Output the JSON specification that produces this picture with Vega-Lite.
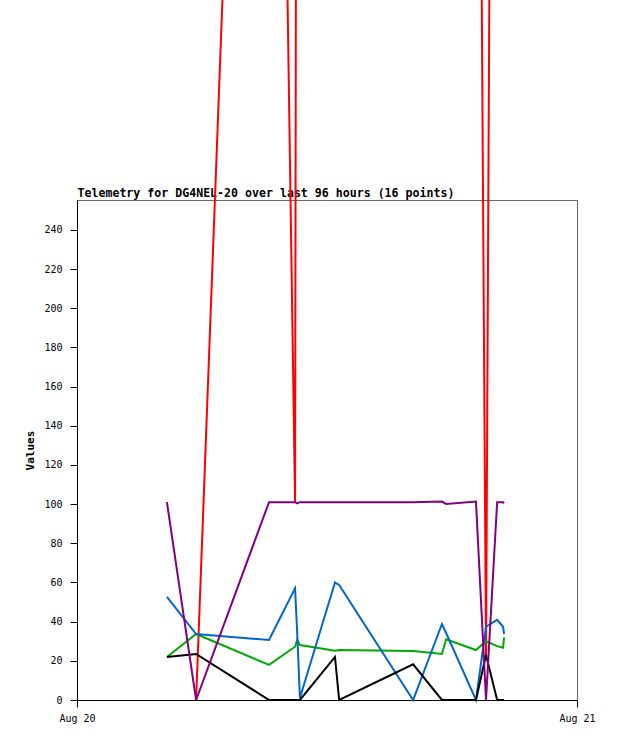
{
  "$schema": "https://vega.github.io/schema/vega-lite/v6.json",
  "description": "Telemetry line chart",
  "width": 500,
  "height": 500,
  "autosize": {"type": "none"},
  "padding": {"left": 77, "top": 200, "right": 41, "bottom": 41},
  "background": "white",
  "config": {
    "view": {"stroke": "#666666", "strokeWidth": 1},
    "axis": {
      "domainColor": "black",
      "tickColor": "black",
      "tickSize": 7,
      "grid": false,
      "labelFont": "DejaVu Sans Mono",
      "labelFontSize": 10,
      "labelColor": "black",
      "titleFont": "DejaVu Sans Mono",
      "titleFontSize": 11,
      "titleFontWeight": "bold",
      "titleColor": "black"
    }
  },
  "data": {
    "values": [
      {"time": "2024-08-20T04:19:00", "black": 22, "blue": 52.7, "green": 22, "purple": 101, "red": null},
      {"time": "2024-08-20T05:43:00", "black": 23.5, "blue": 33.7, "green": 33.7, "purple": 0, "red": 0},
      {"time": "2024-08-20T09:13:00", "black": 0, "blue": 30.6, "green": 17.9, "purple": 101, "red": 990},
      {"time": "2024-08-20T10:28:00", "black": 0, "blue": 57, "green": 27.2, "purple": 101, "red": 101},
      {"time": "2024-08-20T10:34:00", "black": 0, "blue": 35, "green": 30.6, "purple": 100.4, "red": 770},
      {"time": "2024-08-20T10:42:00", "black": 0, "blue": 1, "green": 28.1, "purple": 101, "red": 1000},
      {"time": "2024-08-20T12:23:00", "black": 22, "blue": 60, "green": 25.2, "purple": 101, "red": 1050},
      {"time": "2024-08-20T12:35:00", "black": 0, "blue": 58.7, "green": 25.5, "purple": 101, "red": 1050},
      {"time": "2024-08-20T16:08:00", "black": 18.2, "blue": 0, "green": 25, "purple": 101, "red": 1000},
      {"time": "2024-08-20T17:31:00", "black": 0, "blue": 38.8, "green": 23.5, "purple": 101.3, "red": 1000},
      {"time": "2024-08-20T17:43:00", "black": 0, "blue": 34.2, "green": 31, "purple": 100.1, "red": 950},
      {"time": "2024-08-20T19:09:00", "black": 0, "blue": 0, "green": 25.5, "purple": 101.3, "red": 812},
      {"time": "2024-08-20T19:38:00", "black": 23, "blue": 37.4, "green": 30, "purple": 0, "red": 22},
      {"time": "2024-08-20T20:10:00", "black": 0, "blue": 40.9, "green": 27.5, "purple": 101, "red": 1156},
      {"time": "2024-08-20T20:27:00", "black": 0, "blue": 37.4, "green": 26.7, "purple": 101, "red": 1100},
      {"time": "2024-08-20T20:30:00", "black": 0, "blue": 33.7, "green": 32, "purple": 100.5, "red": 1100}
    ]
  },
  "resolve": {"axis": {"x": "independent"}},
  "layer": [
    {
      "mark": {"type": "line", "color": "#ff0000", "strokeWidth": 2, "clip": false},
      "encoding": {
        "x": {
          "field": "time", "type": "temporal", "title": null,
          "scale": {"domain": [{"year": 2024, "month": 8, "date": 20}, {"year": 2024, "month": 8, "date": 21}]},
          "axis": {
            "orient": "bottom",
            "values": [{"year": 2024, "month": 8, "date": 20}, {"year": 2024, "month": 8, "date": 21}],
            "format": "%b %d",
            "labelAlign": "center",
            "labelPadding": 6
          }
        },
        "y": {"field": "red", "type": "quantitative", "title": "Values",
          "scale": {"domain": [0, 255.3], "nice": false},
          "axis": {"values": [0, 20, 40, 60, 80, 100, 120, 140, 160, 180, 200, 220, 240], "labelPadding": 8, "titlePadding": 8}}
      }
    },
    {
      "mark": {"type": "line", "color": "#00aa00", "strokeWidth": 2, "clip": false},
      "encoding": {
        "x": {"field": "time", "type": "temporal", "axis": null},
        "y": {"field": "green", "type": "quantitative", "title": "Values"}
      }
    },
    {
      "mark": {"type": "line", "color": "#0066cc", "strokeWidth": 2, "clip": false},
      "encoding": {
        "x": {"field": "time", "type": "temporal", "axis": null},
        "y": {"field": "blue", "type": "quantitative", "title": "Values"}
      }
    },
    {
      "mark": {"type": "line", "color": "#000000", "strokeWidth": 2, "clip": false},
      "encoding": {
        "x": {"field": "time", "type": "temporal", "axis": null},
        "y": {"field": "black", "type": "quantitative", "title": "Values"}
      }
    },
    {
      "mark": {"type": "line", "color": "#800080", "strokeWidth": 2, "clip": false},
      "encoding": {
        "x": {
          "field": "time", "type": "temporal",
          "title": "Telemetry for DG4NEL-20 over last 96 hours (16 points)",
          "axis": {
            "orient": "top",
            "domain": false,
            "ticks": false,
            "labels": false,
            "titleAnchor": "start",
            "titleAlign": "left",
            "titleBaseline": "alphabetic",
            "titlePadding": 4,
            "titleFontSize": 11.6
          }
        },
        "y": {"field": "purple", "type": "quantitative", "title": "Values"}
      }
    }
  ]
}
